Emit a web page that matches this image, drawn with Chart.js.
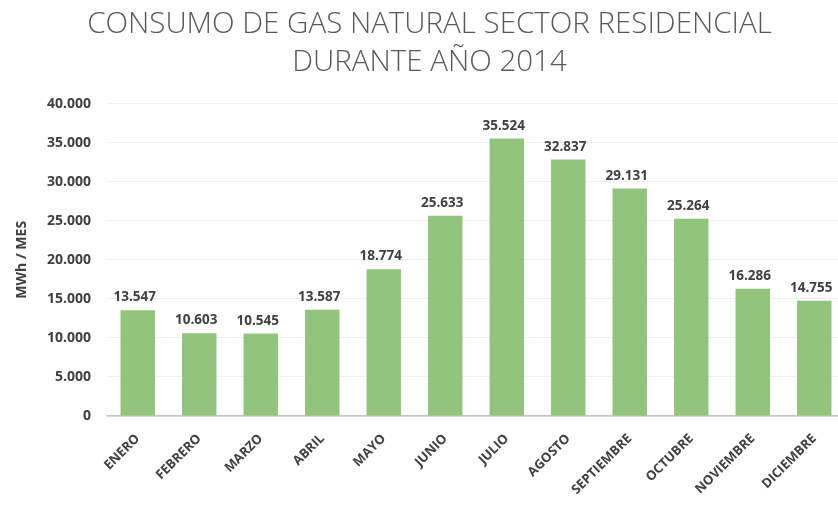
<!DOCTYPE html>
<html>
<head>
<meta charset="utf-8">
<script src="https://cdn.jsdelivr.net/npm/chart.js@4"></script>
<style>
  html, body { margin: 0; padding: 0; background: #fff; overflow: hidden; }
  #wrap { width: 852px; height: 511px; }
</style>
</head>
<body>
<div id="wrap"><canvas id="myChart"></canvas></div>
<script>
// datos
const meses = ['ENERO', 'FEBRERO', 'MARZO', 'ABRIL', 'MAYO', 'JUNIO', 'JULIO',
  'AGOSTO', 'SEPTIEMBRE', 'OCTUBRE', 'NOVIEMBRE', 'DICIEMBRE'];
const consumo = [13547, 10603, 10545, 13587, 18774, 25633, 35524, 32837, 29131, 25264, 16286, 14755];
const yTicks = [0, 5000, 10000, 15000, 20000, 25000, 30000, 35000, 40000];

const titulo = ['CONSUMO DE GAS NATURAL SECTOR RESIDENCIAL', 'DURANTE AÑO 2014'];
const ejeY = 'MWh / MES';

function miles(v) {
  return String(v).replace(/\B(?=(\d{3})+(?!\d))/g, '.');
}

// etiquetas sobre las barras
const valueLabels = {
  id: 'valueLabels',
  afterDatasetsDraw(chart) {
    const ctx = chart.ctx;
    const meta = chart.getDatasetMeta(0);
    ctx.save();
    ctx.font = 'bold 13.5px "Open Sans"';
    ctx.fillStyle = '#404040';
    ctx.textAlign = 'center';
    ctx.textBaseline = 'bottom';
    meta.data.forEach((bar, i) => {
      ctx.fillText(miles(consumo[i]), bar.x - 3, bar.y - 6);
    });
    ctx.restore();
  }
};

const ctx = document.getElementById('myChart');
new Chart(ctx, {
  type: 'bar',
  data: {
    labels: meses,
    datasets: [{
      data: consumo,
      backgroundColor: '#93c47d',
      categoryPercentage: 1,
      barPercentage: 0.56
    }]
  },
  options: {
    responsive: true,
    maintainAspectRatio: false,
    animation: false,
    layout: { padding: { left: 14, right: 7, top: 6, bottom: 0 } },
    plugins: {
      legend: { display: false },
      tooltip: { enabled: false },
      title: {
        display: true,
        text: titulo,
        color: '#595959',
        font: { family: '"Open Sans"', size: 29.5, weight: '300', lineHeight: 1.28 },
        padding: { top: 0, bottom: 22 }
      }
    },
    scales: {
      x: {
        grid: { display: false },
        border: { display: true, color: '#c4c4c4', width: 1.5 },
        ticks: {
          color: '#404040',
          font: { family: '"Open Sans"', size: 13, weight: 'bold' },
          minRotation: 45,
          maxRotation: 45,
          autoSkip: false,
          padding: 7
        },
        afterFit(s) { s.height = 95; }
      },
      y: {
        min: 0,
        max: 40000,
        afterBuildTicks(s) { s.ticks = yTicks.map(v => ({ value: v })); },
        grid: { color: '#efefef', drawTicks: false },
        border: { display: false },
        ticks: {
          color: '#404040',
          font: { family: '"Open Sans"', size: 14, weight: 'bold' },
          padding: 16,
          callback: (v) => miles(v)
        },
        title: {
          display: true,
          text: ejeY,
          color: '#404040',
          font: { family: '"Open Sans"', size: 14, weight: 'bold' },
          padding: 0
        },
        afterFit(s) { s.width = 93; }
      }
    }
  },
  plugins: [valueLabels]
});
</script>
</body>
</html>
